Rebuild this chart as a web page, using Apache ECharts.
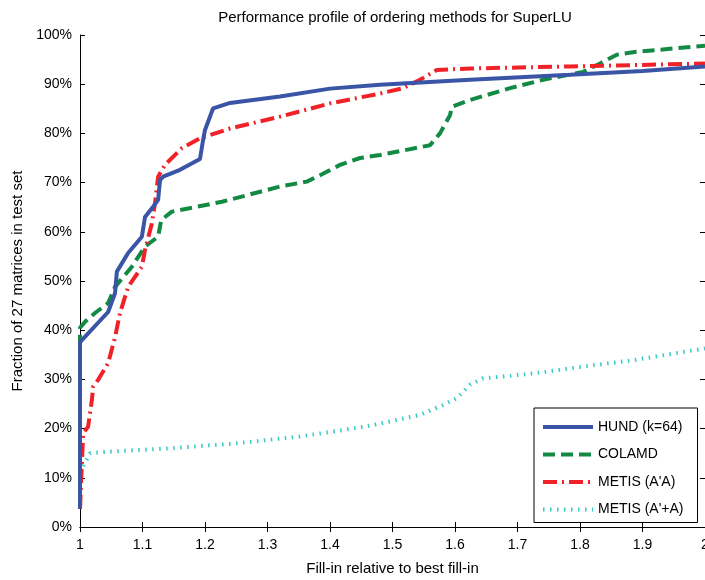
<!DOCTYPE html>
<html>
<head>
<meta charset="utf-8">
<script src="https://cdn.jsdelivr.net/npm/echarts@6/dist/echarts.min.js"></script>
<style>
html,body{margin:0;padding:0;background:#fff;}
#chart{width:705px;height:580px;}
</style>
</head>
<body>
<div id="chart"></div>
<script>
var titleText = "Performance profile of ordering methods for SuperLU";
var xName = "Fill-in relative to best fill-in";
var yName = "Fraction of 27 matrices in test set";
var seriesNames = ["HUND (k=64)", "COLAMD", "METIS (A'A)", "METIS (A'+A)"];

var hund = [[1,3.7],[1,37.5],[1.003,38],[1.045,43.7],[1.056,47.5],[1.059,51.9],[1.077,55.7],[1.099,59],[1.104,63],[1.117,65.1],[1.125,66.5],[1.128,70.5],[1.133,71.2],[1.16,72.6],[1.192,74.8],[1.197,78.7],[1.2,80.7],[1.213,85.1],[1.24,86.2],[1.32,87.5],[1.4,89.1],[1.48,89.9],[1.624,90.9],[1.784,91.9],[1.9,92.7],[2.0,93.6]];
var colamd = [[1,3.7],[1,40.5],[1.008,41.7],[1.024,43.5],[1.045,45.5],[1.056,48.8],[1.083,52.9],[1.104,57],[1.125,59],[1.13,62.4],[1.147,64.1],[1.227,66.1],[1.32,69.2],[1.363,70.2],[1.384,71.5],[1.416,73.6],[1.448,75],[1.48,75.6],[1.56,77.6],[1.576,80],[1.592,83.7],[1.595,85.4],[1.624,86.8],[1.688,89.2],[1.741,90.9],[1.805,92.5],[1.832,94.2],[1.859,96],[1.89,96.6],[2.0,97.8]];
var metisAtA = [[1,3.7],[1.005,19],[1.013,20.4],[1.019,25.8],[1.021,28.5],[1.029,29.9],[1.045,33.3],[1.056,38.5],[1.064,43.5],[1.077,48.8],[1.099,52.9],[1.104,56.3],[1.115,61.7],[1.12,65.8],[1.125,71.2],[1.136,73.6],[1.163,77],[1.192,79],[1.24,81],[1.32,83.4],[1.4,86.1],[1.48,88.1],[1.517,89.2],[1.544,90.9],[1.571,92.9],[1.624,93.2],[1.784,93.6],[2.0,94.2]];
var metisApA = [[1,11.1],[1.005,12.3],[1.016,15],[1.045,15.3],[1.144,16],[1.25,17],[1.352,18.4],[1.405,19.4],[1.469,20.7],[1.544,22.8],[1.581,24.8],[1.603,26.2],[1.624,28.9],[1.645,30.2],[1.725,31.2],[1.805,32.6],[1.885,33.9],[2.0,36.3]];

var xTicks = {min: 1, max: 2, interval: 0.1};
var yTicks = {min: 0, max: 100, interval: 10};

var chart = echarts.init(document.getElementById('chart'), null, {renderer: 'canvas'});
var font = "'Liberation Sans', Arial, sans-serif";
var axisLine = {show: true, lineStyle: {color: '#000', width: 1}};
var tick = {show: true, inside: true, length: 5, lineStyle: {color: '#000'}};

chart.setOption({
  animation: false,
  backgroundColor: '#fff',
  textStyle: {fontFamily: font},
  title: {
    text: titleText, left: 390, top: 5, textAlign: 'center',
    textStyle: {fontSize: 15, fontWeight: 'normal', color: '#000', fontFamily: font}
  },
  grid: {left: 80, top: 35, right: 0, bottom: 53, containLabel: false, outerBoundsMode: 'none'},
  legend: {
    orient: 'vertical', left: 534, top: 408,
    padding: [12, 14, 6, 7],
    itemWidth: 50, itemHeight: 14, itemGap: 13.5,
    backgroundColor: '#fff', borderColor: '#000', borderWidth: 1,
    itemStyle: {opacity: 0},
    lineStyle: {width: 4},
    textStyle: {fontSize: 14, color: '#000', fontFamily: font},
    data: seriesNames
  },
  xAxis: [{
    type: 'value', min: xTicks.min, max: xTicks.max, interval: xTicks.interval,
    name: xName, nameLocation: 'middle', nameGap: 34,
    nameTextStyle: {fontSize: 15, color: '#000'},
    axisLine: axisLine, axisTick: tick, splitLine: {show: false},
    axisLabel: {color: '#000', fontSize: 14, margin: 11, formatter: function(v){return String(+v.toFixed(1));}}
  }, {
    type: 'value', position: 'top', min: xTicks.min, max: xTicks.max, interval: xTicks.interval,
    axisLine: axisLine, axisTick: tick, splitLine: {show: false}, axisLabel: {show: false}
  }],
  yAxis: [{
    type: 'value', min: yTicks.min, max: yTicks.max, interval: yTicks.interval,
    name: yName, nameLocation: 'middle', nameGap: 55, nameRotate: 90,
    nameTextStyle: {fontSize: 15, color: '#000'},
    axisLine: axisLine, axisTick: tick, splitLine: {show: false},
    axisLabel: {color: '#000', fontSize: 14, margin: 8, formatter: '{value}%'}
  }, {
    type: 'value', position: 'right', min: yTicks.min, max: yTicks.max, interval: yTicks.interval,
    axisLine: axisLine, axisTick: tick, splitLine: {show: false}, axisLabel: {show: false}
  }],
  series: [
    {name: seriesNames[3], type: 'line', data: metisApA, showSymbol: false, symbol: 'none', z: 2,
     lineStyle: {color: '#38c8c8', width: 4, type: [1.5, 5.5]}, itemStyle: {color: '#38c8c8'}},
    {name: seriesNames[1], type: 'line', data: colamd, showSymbol: false, symbol: 'none', z: 3,
     lineStyle: {color: '#128a44', width: 4, type: [12, 6]}, itemStyle: {color: '#128a44'}},
    {name: seriesNames[2], type: 'line', data: metisAtA, showSymbol: false, symbol: 'none', z: 4,
     lineStyle: {color: '#f02228', width: 4, type: [14, 5, 2, 5]}, itemStyle: {color: '#f02228'}},
    {name: seriesNames[0], type: 'line', data: hund, showSymbol: false, symbol: 'none', z: 5,
     lineStyle: {color: '#3a54a6', width: 4}, itemStyle: {color: '#3a54a6'}}
  ]
});
</script>
</body>
</html>
